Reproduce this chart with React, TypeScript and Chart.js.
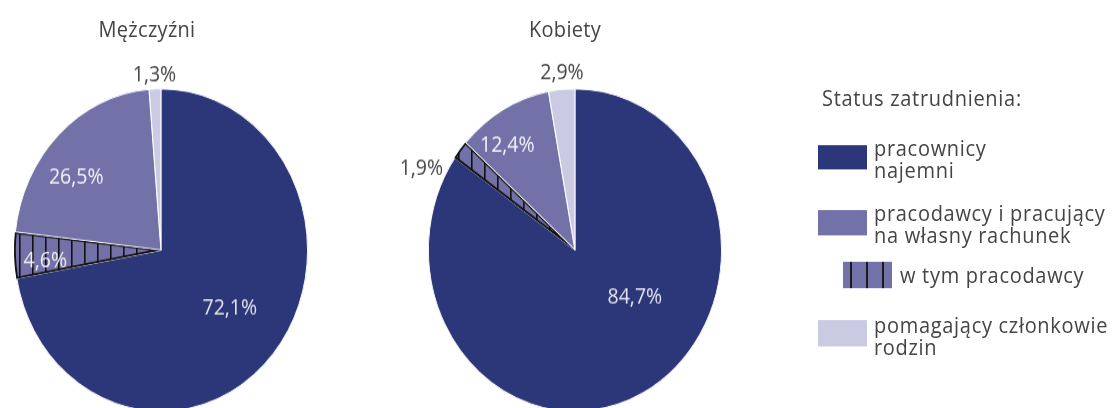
import React, { useEffect, useRef } from "react";
import { Chart, registerables } from "chart.js";

Chart.register(...registerables);

// ---- data (percent shares, as printed on the chart) ----
const groups = ["Mężczyźni", "Kobiety"];
const employees = [72.1, 84.7]; // pracownicy najemni
const selfEmployed = [26.5, 12.4]; // pracodawcy i pracujący na własny rachunek
const employers = [4.6, 1.9]; // w tym pracodawcy
const familyWorkers = [1.3, 2.9]; // pomagający członkowie rodzin
const legendTitle = "Status zatrudnienia:";
const legendLabels = [
  ["pracownicy", "najemni"],
  ["pracodawcy i pracujący", "na własny rachunek"],
  ["w tym pracodawcy"],
  ["pomagający członkowie", "rodzin"],
];

// ---- styles ----
const NAVY = "#2b3779";
const LAVENDER = "#7272a9";
const LIGHT = "#cacae3";
const TEXT = "#444444";
const FONT = '"Open Sans", sans-serif';
const SY = 1.1; // vertical stretch of the whole picture

const fmt = (v: number) => v.toFixed(1).replace(".", ",") + "%";

function hatchPattern(): CanvasPattern | string {
  const c = document.createElement("canvas");
  c.width = 13;
  c.height = 13;
  const g = c.getContext("2d");
  if (!g) return LAVENDER;
  g.fillStyle = LAVENDER;
  g.fillRect(0, 0, 13, 13);
  g.fillStyle = "#111";
  g.fillRect(6, 0, 1.6, 13);
  const p = g.createPattern(c, "repeat");
  return p || LAVENDER;
}

const sliceLabels = {
  id: "sliceLabels",
  afterDatasetsDraw(chart: any) {
    const cfg = chart.options.plugins.sliceLabels;
    if (!cfg) return;
    const meta = chart.getDatasetMeta(0);
    const ctx = chart.ctx;
    ctx.save();
    ctx.font = `19.5px ${FONT}`;
    ctx.textAlign = "center";
    ctx.textBaseline = "middle";
    meta.data.forEach((arc: any, i: number) => {
      const text = cfg.texts[i];
      if (!text) return;
      const p = arc.getProps(["x", "y", "startAngle", "endAngle", "outerRadius"], true);
      const a = (p.startAngle + p.endAngle) / 2 + (cfg.shift[i] * Math.PI) / 180;
      const r = p.outerRadius * cfg.factor[i];
      ctx.fillStyle = cfg.colors[i];
      ctx.fillText(text, p.x + Math.cos(a) * r, p.y + Math.sin(a) * r);
    });
    ctx.restore();
  },
};

type PieProps = {
  idx: number;
  left: number;
  width: number;
  padLeft: number;
  factor: number[];
  shift: number[];
  colors: string[];
};

function Pie({ idx, left, width, padLeft, factor, shift, colors }: PieProps) {
  const ref = useRef<HTMLCanvasElement>(null);
  useEffect(() => {
    if (!ref.current) return;
    const values = [
      employees[idx],
      employers[idx],
      +(selfEmployed[idx] - employers[idx]).toFixed(1),
      familyWorkers[idx],
    ];
    const texts = [
      fmt(employees[idx]),
      fmt(employers[idx]),
      fmt(selfEmployed[idx]),
      fmt(familyWorkers[idx]),
    ];
    const height = 380;
    const diameter = 294;
    const top = 80.3;
    const chart = new Chart(ref.current, {
      type: "pie",
      data: {
        labels: ["pracownicy najemni", "w tym pracodawcy", "pracodawcy i pracujący na własny rachunek", "pomagający członkowie rodzin"],
        datasets: [
          {
            data: values,
            backgroundColor: [NAVY, hatchPattern() as any, LAVENDER, LIGHT],
            borderColor: ["#ffffff", "#111111", "#ffffff", "#ffffff"],
            borderWidth: [0.6, 1.5, 0.6, 0.6],
            borderAlign: "inner",
            hoverOffset: 0,
            offset: 0,
          } as any,
        ],
      },
      options: {
        responsive: false,
        animation: false,
        events: [],
        layout: {
          padding: {
            left: padLeft,
            right: width - padLeft - diameter,
            top: top,
            bottom: height - top - diameter,
          },
        },
        plugins: {
          legend: { display: false },
          tooltip: { enabled: false },
          title: { display: false },
          sliceLabels: { texts, factor, shift, colors },
        } as any,
      },
      plugins: [sliceLabels],
    });
    return () => chart.destroy();
  }, []);
  return (
    <canvas
      ref={ref}
      width={width}
      height={380}
      style={{ position: "absolute", left, top: 0, width, height: 380 }}
    />
  );
}

const abs = (l: number, t: number): React.CSSProperties => ({
  position: "absolute",
  left: l,
  top: t,
  whiteSpace: "nowrap",
});

export default function App() {
  const txt: React.CSSProperties = {
    fontFamily: FONT,
    fontSize: 20,
    lineHeight: "20px",
    color: TEXT,
  };
  const leg: React.CSSProperties = { letterSpacing: "0.7px" };
  const swatch = (l: number, t: number, w: number, h: number, bg: string): React.CSSProperties => ({
    position: "absolute",
    left: l,
    top: t,
    width: w,
    height: h,
    background: bg,
  });
  const hatchBg = `repeating-linear-gradient(90deg, ${LAVENDER} 0px, ${LAVENDER} 7px, #1a1a1a 7px, #1a1a1a 9px, ${LAVENDER} 9px, ${LAVENDER} 16px)`;
  return (
    <div
      style={{
        position: "fixed",
        left: 0,
        top: 0,
        width: 1113,
        height: 408,
        overflow: "hidden",
        background: "#fff",
      }}
    >
      <div
        style={{
          position: "absolute",
          left: 0,
          top: 0,
          width: 1113,
          height: 408 / SY,
          transform: `scaleY(${SY})`,
          transformOrigin: "0 0",
          ...txt,
        }}
      >
        <Pie
          idx={0}
          left={0}
          width={330}
          padLeft={14}
          factor={[0.59, 0.79, 0.73, 1.08]}
          shift={[-2.4, -3, -8, 0]}
          colors={["#e6e6ef", "#f0f0f5", "#f4f4f8", TEXT]}
        />
        <Pie
          idx={1}
          left={400}
          width={360}
          padLeft={28}
          factor={[0.5, 1.16, 0.79, 1.1]}
          shift={[-27, -12.6, -6.3, 0.6]}
          colors={["#e6e6ef", TEXT, "#f4f4f8", TEXT]}
        />
        <div style={{ ...abs(47, 17), width: 200, textAlign: "center", letterSpacing: "0.3px" }}>{groups[0]}</div>
        <div style={{ ...abs(465, 17), width: 200, textAlign: "center", letterSpacing: "0.3px" }}>{groups[1]}</div>

        <div style={{ ...abs(822, 79), ...leg }}>{legendTitle}</div>

        <div style={swatch(818, 131.8, 49, 22.7, NAVY)} />
        <div style={{ ...abs(874, 124.5), ...leg }}>
          {legendLabels[0][0]}
          <br />
          {legendLabels[0][1]}
        </div>

        <div style={swatch(818, 190.9, 49, 22.7, LAVENDER)} />
        <div style={{ ...abs(874, 183.6), ...leg }}>
          {legendLabels[1][0]}
          <br />
          {legendLabels[1][1]}
        </div>

        <div style={swatch(843, 238.2, 49, 23.6, hatchBg)} />
        <div style={{ ...abs(900, 240), ...leg }}>{legendLabels[2][0]}</div>

        <div style={swatch(818, 290.9, 49, 24.6, LIGHT)} />
        <div style={{ ...abs(874, 285.5), ...leg }}>
          {legendLabels[3][0]}
          <br />
          {legendLabels[3][1]}
        </div>
      </div>
    </div>
  );
}
